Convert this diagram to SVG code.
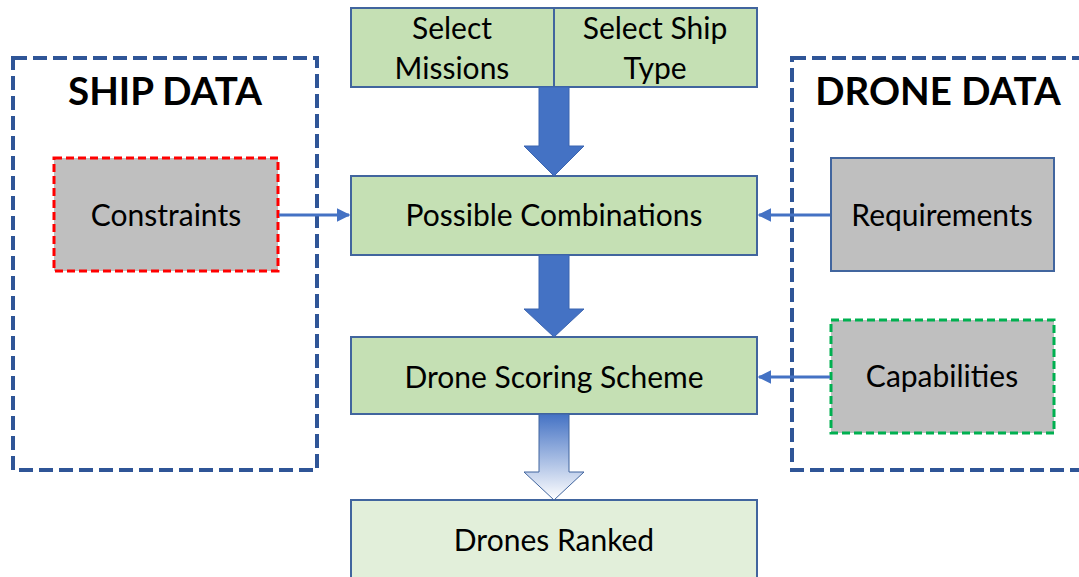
<svg xmlns="http://www.w3.org/2000/svg" width="1079" height="577" viewBox="0 0 1079 577">
  <defs>
    <style>
      .lbl { font-family: Lato, "Liberation Sans", sans-serif; font-size: 30px; fill: #000; text-anchor: middle; }
      .title { font-family: Lato, "Liberation Sans", sans-serif; font-size: 38.5px; font-weight: bold; fill: #000; text-anchor: middle; }
      .step { fill: #c5e0b4; stroke: #41659e; stroke-width: 2; }
      .final { fill: #e2efda; stroke: #41659e; stroke-width: 2; }
      .group { fill: none; stroke: #2f5597; stroke-width: 4; stroke-dasharray: 14 6; }
      .data { fill: #bfbfbf; }
      .flow { fill: #4472c4; stroke: #3b65b0; stroke-width: 1; }
      .feed { stroke: #4472c4; stroke-width: 3; fill: none; marker-end: url(#head); }
    </style>
    <marker id="head" viewBox="0 0 10 10" refX="9" refY="5" markerWidth="4.5" markerHeight="4.5" orient="auto" markerUnits="strokeWidth">
      <path d="M0,0 L10,5 L0,10 Z" fill="#4472c4"/>
    </marker>
    <linearGradient id="fade" x1="0" y1="0" x2="0" y2="1">
      <stop offset="0" stop-color="#4472c4"/>
      <stop offset="1" stop-color="#ffffff"/>
    </linearGradient>
  </defs>

  <!-- ship data group -->
  <g id="ship-data">
    <rect class="group" x="13" y="58" width="304" height="412"/>
    <text class="title" x="165" y="105">SHIP DATA</text>
  </g>
  <g id="constraints">
    <rect class="data" x="54" y="158" width="224" height="113" stroke="#ff0000" stroke-width="3" stroke-dasharray="8 4"/>
    <text class="lbl" x="166" y="226">Constraints</text>
  </g>

  <!-- drone data group -->
  <g id="drone-data">
    <rect class="group" x="792" y="58" width="300" height="412"/>
    <text class="title" x="938" y="105">DRONE DATA</text>
  </g>
  <g id="requirements">
    <rect class="data" x="831" y="158" width="223" height="113" stroke="#41659e" stroke-width="2"/>
    <text class="lbl" x="942" y="226">Requirements</text>
  </g>
  <g id="capabilities">
    <rect class="data" x="831" y="320" width="223" height="113" stroke="#00b050" stroke-width="3" stroke-dasharray="8 4"/>
    <text class="lbl" x="942" y="387">Capabilities</text>
  </g>

  <!-- selection header -->
  <g id="select-missions">
    <rect class="step" x="351" y="8" width="203" height="79"/>
    <text class="lbl" x="452" y="39">Select</text>
    <text class="lbl" x="452" y="79">Missions</text>
  </g>
  <g id="select-ship-type">
    <rect class="step" x="554" y="8" width="203" height="79"/>
    <text class="lbl" x="655" y="39">Select Ship</text>
    <text class="lbl" x="655" y="79">Type</text>
  </g>

  <g id="possible-combinations">
    <rect class="step" x="351" y="176" width="406" height="79"/>
    <text class="lbl" x="554" y="226">Possible Combinations</text>
  </g>
  <g id="drone-scoring-scheme">
    <rect class="step" x="351" y="337" width="406" height="77"/>
    <text class="lbl" x="554" y="388">Drone Scoring Scheme</text>
  </g>
  <g id="drones-ranked">
    <rect class="final" x="351" y="500" width="406" height="82"/>
    <text class="lbl" x="554" y="551">Drones Ranked</text>
  </g>

  <!-- connectors -->
  <g id="connectors">
    <path class="flow" d="M539,87 H569 V146 H584 L554,176 L524,146 H539 Z"/>
    <path class="flow" d="M539,255 H569 V309 H584 L554,337 L524,309 H539 Z"/>
    <path d="M539,414 H569 V472 H584 L554,500 L524,472 H539 Z" fill="url(#fade)" stroke="#41659e" stroke-width="1"/>
    <line class="feed" x1="279" y1="215" x2="349" y2="215"/>
    <line class="feed" x1="830" y1="215" x2="759" y2="215"/>
    <line class="feed" x1="830" y1="377" x2="759" y2="377"/>
  </g>
</svg>
